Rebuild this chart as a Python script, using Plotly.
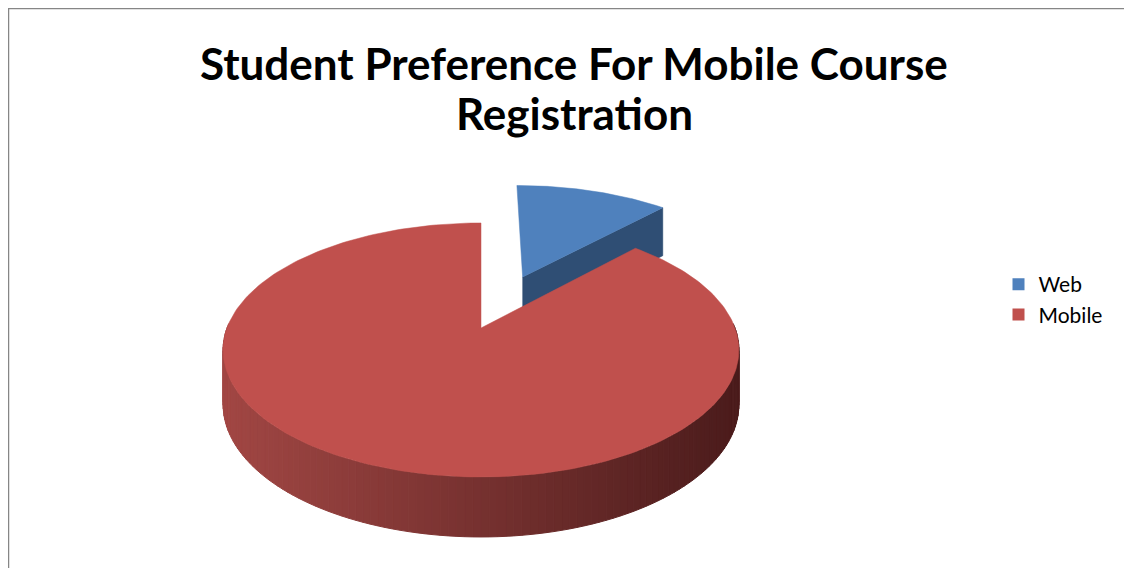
import math
import plotly.graph_objects as go

# ---- data ----
categories = ["Web", "Mobile"]
values = [12, 88]
pulls = [0.48, 0.0]
top_colors = ["#4F81BD", "#C0504D"]
face_colors = ["#2F4E74", "#8E3A37"]

title_line1 = "Student Preference For Mobile Course"
title_line2 = "Registration"

# ---- 3D projection styling (page pixel units; page has an 8px body margin) ----
W, Hh = 1132, 568
OFF = 8
CX, CY = 481.0, 328.0
RX, RY = 254.0, 123.2
K = 0.173
DEPTH = 53.6
DP = 0.593


def px(xp):
    return (xp - OFF) / W


def py(yp):
    return 1 - (yp - OFF) / Hh


def proj(u, v, z=0.0):
    s = 1.0 / (1.0 + K * v)
    x = CX + RX * u * s
    y = CY - RY * v * s + z * DEPTH * s ** DP
    return x, y


total = float(sum(values))
angles = []
a = 0.0
for val in values:
    span = 360.0 * val / total
    angles.append((a, a + span))
    a += span


def arc(theta0, theta1, ou, ov, z=0.0, n=80):
    xs, ys = [], []
    for i in range(n + 1):
        t = math.radians(theta0 + (theta1 - theta0) * i / n)
        x, y = proj(ou + math.sin(t), ov + math.cos(t), z)
        xs.append(x)
        ys.append(y)
    return xs, ys


fig = go.Figure()


def poly(xs, ys, color, lw=0.0):
    fig.add_trace(go.Scatter(
        x=xs + [xs[0]], y=ys + [ys[0]], mode="lines", fill="toself",
        fillcolor=color, line=dict(color=color, width=lw),
        hoverinfo="skip", showlegend=False))


offsets = []
for (t0, t1), p in zip(angles, pulls):
    tm = math.radians((t0 + t1) / 2)
    offsets.append((p * math.sin(tm), p * math.cos(tm)))

# --- Web slice (exploded, behind) ---
i = 0
t0, t1 = angles[i]
ou, ov = offsets[i]
tr = math.radians(t1)
ax, ay = proj(ou, ov, 0)
bx, by = proj(ou, ov, 1)
rx_, ry_ = proj(ou + math.sin(tr), ov + math.cos(tr), 0)
rbx, rby = proj(ou + math.sin(tr), ov + math.cos(tr), 1)
poly([ax, rx_, rbx, bx], [ay, ry_, rby, by], face_colors[i], 0.5)
xs, ys = arc(t0, t1, ou, ov)
poly([ax] + xs, [ay] + ys, top_colors[i], 0.5)

# --- Mobile slice ---
i = 1
t0, t1 = angles[i]
ou, ov = offsets[i]
n_strips = 120
w0, w1 = 88.0, 272.0
c_left = (162, 71, 68)
c_right = (74, 27, 27)
for j in range(n_strips):
    a0 = w0 + (w1 - w0) * j / n_strips
    a1 = w0 + (w1 - w0) * (j + 1) / n_strips
    xa, ya = arc(a0, a1, ou, ov, 0, n=2)
    xb, yb = arc(a0, a1, ou, ov, 1, n=2)
    xm = (xa[0] + xa[-1]) / 2
    t = min(max((xm - (CX - 262)) / 524.0, 0.0), 1.0)
    col = tuple(int(round(c_left[k] + (c_right[k] - c_left[k]) * t)) for k in range(3))
    colstr = "rgb(%d,%d,%d)" % col
    poly(xa + xb[::-1], ya + yb[::-1], colstr, 1.0)
ax, ay = proj(ou, ov, 0)
xs, ys = arc(t0, t1, ou, ov, 0, n=240)
poly([ax] + xs, [ay] + ys, top_colors[i], 0.5)

# legend entries
for name, col in zip(categories, top_colors):
    fig.add_trace(go.Scatter(
        x=[None], y=[None], mode="markers", name=name,
        marker=dict(symbol="square", size=14, color=col)))

title_font = dict(family="Lato", size=44, color="black", weight="bold")
fig.update_layout(
    width=W, height=Hh,
    margin=dict(l=0, r=0, t=0, b=0),
    paper_bgcolor="white", plot_bgcolor="white",
    xaxis=dict(range=[OFF, W + OFF], visible=False, fixedrange=True),
    yaxis=dict(range=[Hh + OFF, OFF], visible=False, fixedrange=True),
    showlegend=True,
    legend=dict(x=px(998.5), y=py(264), xanchor="left", yanchor="top",
                font=dict(family="Lato", size=21, color="black"),
                bgcolor="rgba(0,0,0,0)", itemsizing="constant"),
    shapes=[dict(type="rect", xref="paper", yref="paper",
                 x0=0.0, x1=1.05, y0=-0.05, y1=1.0,
                 line=dict(color="#868686", width=2.5), fillcolor="rgba(0,0,0,0)",
                 layer="below")],
    annotations=[
        dict(text=title_line1, xref="paper", yref="paper",
             x=px(574), y=py(35), xanchor="center", yanchor="top",
             showarrow=False, font=title_font),
        dict(text=title_line2, xref="paper", yref="paper",
             x=px(574), y=py(85), xanchor="center", yanchor="top",
             showarrow=False, font=title_font),
    ],
)

fig.write_html("out.html")
